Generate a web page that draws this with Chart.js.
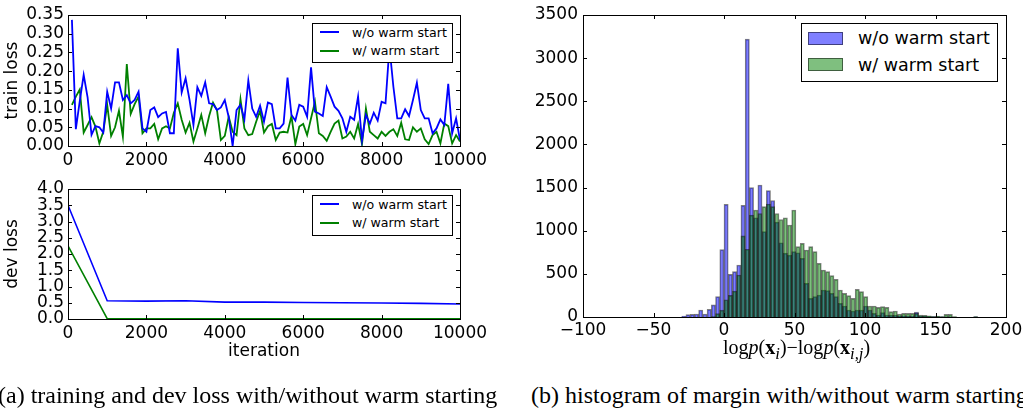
<!DOCTYPE html>
<html>
<head>
<meta charset="utf-8">
<script src="https://cdn.jsdelivr.net/npm/chart.js@4.4.0/dist/chart.umd.min.js"></script>
<style>
  body { margin: 0; width: 1023px; height: 409px; background: #fff; position: relative; overflow: hidden; font-family: 'DejaVu Sans', sans-serif; }
  canvas { position: absolute; }
  #train { left: 0; top: 0; }
  #dev { left: 0; top: 170px; }
  #hist { left: 510px; top: 0; }
  .legend { position: absolute; border: 1px solid #000; background: #fff; box-sizing: border-box; }
  .legend div { position: absolute; white-space: nowrap; }
  .small { font-size: 12.6px; line-height: 16px; }
  .big { font-size: 17.5px; line-height: 20px; }
  .xlab { position: absolute; left: 723px; top: 336px; font-family: 'Liberation Serif', serif; font-size: 20px; white-space: nowrap; }
  .caption { position: absolute; top: 381px; font-family: 'Liberation Serif', serif; font-size: 24px; line-height: 28px; white-space: nowrap; }
</style>
</head>
<body>
<canvas id="train" width="500" height="175"></canvas>
<canvas id="dev" width="500" height="195"></canvas>
<canvas id="hist" width="513" height="345"></canvas>

<div class="legend small" style="left:312px;top:23px;width:141px;height:40px">
  <div style="left:7px;top:7px;width:19px;height:2px;background:#0000ff"></div>
  <div style="left:39px;top:1px">w/o warm start</div>
  <div style="left:7px;top:26px;width:19px;height:2px;background:#008000"></div>
  <div style="left:39px;top:19px">w/ warm start</div>
</div>
<div class="legend small" style="left:312px;top:195px;width:141px;height:41px">
  <div style="left:7px;top:7px;width:19px;height:2px;background:#0000ff"></div>
  <div style="left:39px;top:1px">w/o warm start</div>
  <div style="left:7px;top:26px;width:19px;height:2px;background:#008000"></div>
  <div style="left:39px;top:19px">w/ warm start</div>
</div>
<div class="legend big" style="left:801px;top:23px;width:197px;height:59px">
  <div style="left:6px;top:8px;width:33px;height:11px;background:rgba(0,0,255,0.5);border:1px solid rgba(0,0,0,0.5)"></div>
  <div style="left:56px;top:4px">w/o warm start</div>
  <div style="left:6px;top:34px;width:33px;height:11px;background:rgba(0,128,0,0.5);border:1px solid rgba(0,0,0,0.5)"></div>
  <div style="left:56px;top:31px">w/ warm start</div>
</div>

<div class="xlab">log<i>p</i>(<b>x</b><sub><i>i</i></sub>)&minus;log<i>p</i>(<b>x</b><sub><i>i,j</i></sub>)</div>
<div class="caption" style="left:-2px">(a) training and dev loss with/without warm starting</div>
<div class="caption" style="left:531px">(b) histogram of margin with/without warm starting</div>

<script>
// train loss, sampled every 100 iterations
const trainIters = [100, 200, 300, 400, 500, 600, 700, 800, 900, 1000,
  1100, 1200, 1300, 1400, 1500, 1600, 1700, 1800, 1900, 2000,
  2100, 2200, 2300, 2400, 2500, 2600, 2700, 2800, 2900, 3000,
  3100, 3200, 3300, 3400, 3500, 3600, 3700, 3800, 3900, 4000,
  4100, 4200, 4300, 4400, 4500, 4600, 4700, 4800, 4900, 5000,
  5100, 5200, 5300, 5400, 5500, 5600, 5700, 5800, 5900, 6000,
  6100, 6200, 6300, 6400, 6500, 6600, 6700, 6800, 6900, 7000,
  7100, 7200, 7300, 7400, 7500, 7600, 7700, 7800, 7900, 8000,
  8100, 8200, 8300, 8400, 8500, 8600, 8700, 8800, 8900, 9000,
  9100, 9200, 9300, 9400, 9500, 9600, 9700, 9800, 9900, 10000];
const trainNoWarm = [0.337, 0.045, 0.12, 0.19, 0.13, 0.03, 0.053, 0.05, 0.036, 0.145,
  0.1, 0.17, 0.17, 0.123, 0.136, 0.114, 0.123, 0.145, 0.047, 0.038,
  0.096, 0.103, 0.077, 0.087, 0.091, 0.034, 0.034, 0.261, 0.143, 0.181,
  0.123, 0.056, 0.157, 0.134, 0.17, 0.114, 0.112, 0.096, 0.103, 0.123,
  0.077, 0.0, 0.096, 0.11, 0.071, 0.175, 0.1, 0.078, 0.108, 0.065,
  0.116, 0.112, 0.047, 0.047, 0.06, 0.183, 0.083, 0.068, 0.11, 0.105,
  0.078, 0.21, 0.092, 0.087, 0.08, 0.157, 0.132, 0.105, 0.094, 0.074,
  0.038, 0.078, 0.07, 0.132, 0.015, 0.083, 0.06, 0.089, 0.068, 0.118,
  0.114, 0.265, 0.159, 0.074, 0.074, 0.098, 0.08, 0.123, 0.169, 0.096,
  0.074, 0.074, 0.034, 0.047, 0.071, 0.056, 0.166, 0.034, 0.074, 0.016];
const trainWarm = [0.11, 0.132, 0.151, 0.036, 0.056, 0.077, 0.052, 0.007, 0.038, 0.11,
  0.027, 0.05, 0.094, 0.025, 0.219, 0.086, 0.112, 0.132, 0.034, 0.047,
  0.047, 0.059, 0.018, 0.047, 0.053, 0.047, 0.089, 0.114, 0.07, 0.036,
  0.062, 0.012, 0.047, 0.083, 0.034, 0.08, 0.116, 0.096, 0.016, 0.027,
  0.078, 0.038, 0.029, 0.125, 0.047, 0.029, 0.032, 0.065, 0.094, 0.036,
  0.053, 0.059, 0.016, 0.036, 0.038, 0.036, 0.08, 0.005, 0.052, 0.059,
  0.029, 0.074, 0.118, 0.034, 0.027, 0.014, 0.038, 0.06, 0.068, 0.02,
  0.025, 0.038, 0.02, 0.059, 0.005, 0.1, 0.038, 0.029, 0.02, 0.038,
  0.027, 0.038, 0.045, 0.027, 0.062, 0.018, 0.016, 0.05, 0.038, 0.047,
  0.018, 0.005, 0.029, 0.038, 0.007, 0.06, 0.053, 0.007, 0.029, 0.012];

// dev loss, every 1000 iterations
const devIters = [0, 1000, 2000, 3000, 4000, 5000, 6000, 7000, 8000, 9000, 10000];
const devNoWarm = [3.5, 0.56, 0.55, 0.56, 0.52, 0.52, 0.51, 0.5, 0.49, 0.48, 0.46];
const devWarm = [2.25, 0.01, 0.01, 0.01, 0.01, 0.01, 0.01, 0.01, 0.01, 0.01, 0.01];

// histogram of margins, bins 3 wide starting at binStarts
const binStarts = [-30, -27, -24, -21, -18, -15, -12, -9, -6, -3,
  0, 3, 6, 9, 12, 15, 18, 21, 24, 27,
  30, 33, 36, 39, 42, 45, 48, 51, 54, 57,
  60, 63, 66, 69, 72, 75, 78, 81, 84, 87,
  90, 93, 96, 99, 102, 105, 108, 111, 114, 117,
  120, 123, 126, 129, 132, 135, 138, 141, 144, 147,
  150, 153, 156, 159, 162, 165, 168, 171, 174, 177];
const binWidth = 3;
const histNoWarm = [12, 27, 31, 35, 81, 35, 89, 140, 236, 780,
  1306, 494, 525, 603, 1294, 3220, 1499, 1150, 1530, 990,
  1464, 1350, 1100, 860, 740, 718, 757, 745, 680, 390,
  216, 236, 255, 313, 305, 274, 236, 158, 127, 81,
  70, 81, 81, 127, 81, 42, 23, 50, 23, 20,
  20, 15, 15, 12, 12, 58, 10, 8, 5, 5,
  3, 3, 2, 2, 0, 0, 0, 0, 0, 2];
const histWarm = [0, 0, 0, 0, 0, 0, 0, 5, 40, 80,
  200, 250, 300, 487, 940, 785, 1180, 1240, 1200, 1280,
  1310, 1280, 1200, 1130, 1150, 1066, 1240, 815, 854, 776,
  815, 757, 622, 545, 525, 479, 436, 313, 274, 247,
  216, 320, 294, 236, 127, 127, 112, 120, 112, 62,
  70, 35, 42, 42, 42, 42, 23, 20, 15, 5,
  10, 5, 30, 30, 5, 0, 0, 0, 0, 5];

Chart.defaults.font.family = "'DejaVu Sans', sans-serif";
Chart.defaults.font.size = 17;
Chart.defaults.color = '#000';
Chart.defaults.animation = false;

const minus = v => String(v).replace('-', '\u2212');

// matplotlib-style frame with inward ticks on all four sides
const frameTicks = {
  id: 'frameTicks',
  afterDatasetsDraw(chart) {
    const { ctx, chartArea: a, scales: { x, y } } = chart;
    ctx.save();
    ctx.strokeStyle = '#000';
    ctx.lineWidth = 1;
    ctx.beginPath();
    x.ticks.forEach(t => {
      const px = Math.round(x.getPixelForValue(t.value)) + 0.5;
      ctx.moveTo(px, a.bottom); ctx.lineTo(px, a.bottom - 4);
      ctx.moveTo(px, a.top); ctx.lineTo(px, a.top + 4);
    });
    y.ticks.forEach(t => {
      const py = Math.round(y.getPixelForValue(t.value)) + 0.5;
      ctx.moveTo(a.left, py); ctx.lineTo(a.left + 4, py);
      ctx.moveTo(a.right, py); ctx.lineTo(a.right - 4, py);
    });
    ctx.stroke();
    ctx.strokeRect(Math.round(a.left) + 0.5, Math.round(a.top) + 0.5,
      Math.round(a.right - a.left), Math.round(a.bottom - a.top));
    ctx.restore();
  }
};

function fixSize(w, h) {
  return scale => {
    if (w != null) scale.width = w;
    if (h != null) scale.height = h;
    scale.paddingLeft = 0; scale.paddingRight = 0;
    scale.paddingTop = 0; scale.paddingBottom = 0;
  };
}

function lineChart(id, iters, noWarm, warm, opts) {
  const pts = vals => iters.map((x, i) => ({ x, y: vals[i] }));
  return new Chart(document.getElementById(id), {
    type: 'line',
    data: {
      datasets: [
        { label: 'w/o warm start', data: pts(noWarm), borderColor: '#0000ff', borderWidth: opts.lw, pointRadius: 0, tension: 0 },
        { label: 'w/ warm start', data: pts(warm), borderColor: '#008000', borderWidth: opts.lw, pointRadius: 0, tension: 0 }
      ]
    },
    options: {
      responsive: false,
      layout: { padding: { left: 0, top: opts.top, right: 40, bottom: 0 } },
      plugins: { legend: { display: false }, tooltip: { enabled: false } },
      scales: {
        x: {
          type: 'linear', min: 0, max: 10000,
          grid: { display: false, drawTicks: false }, border: { display: false },
          ticks: { stepSize: 2000, padding: 4, maxRotation: 0, autoSkip: false, callback: v => String(v) },
          title: { display: !!opts.xTitle, text: opts.xTitle, padding: { top: 0, bottom: 3 } },
          afterFit: fixSize(null, opts.xh)
        },
        y: {
          min: 0, max: opts.ymax,
          grid: { display: false, drawTicks: false }, border: { display: false },
          ticks: { stepSize: opts.step, padding: 4, autoSkip: false, callback: v => v.toFixed(opts.dec) },
          title: { display: true, text: opts.yTitle, padding: { top: 2, bottom: 0 } },
          afterFit: fixSize(68, null)
        }
      }
    },
    plugins: [frameTicks]
  });
}

lineChart('train', trainIters, trainNoWarm, trainWarm,
  { top: 15, xh: 29, ymax: 0.35, step: 0.05, dec: 2, yTitle: 'train loss', lw: 1.8 });
lineChart('dev', devIters, devNoWarm, devWarm,
  { top: 19, xh: 46, ymax: 4.0, step: 0.5, dec: 1, yTitle: 'dev loss', xTitle: 'iteration', lw: 1.6 });

const binCenters = binStarts.map(s => s + binWidth / 2);
new Chart(document.getElementById('hist'), {
  type: 'bar',
  data: {
    datasets: [
      { label: 'w/o warm start', data: binCenters.map((x, i) => ({ x, y: histNoWarm[i] })),
        backgroundColor: 'rgba(0,0,255,0.5)', borderColor: 'rgba(0,0,0,0.5)', borderWidth: 1,
        grouped: false, order: 2, barPercentage: 1, categoryPercentage: 1 },
      { label: 'w/ warm start', data: binCenters.map((x, i) => ({ x, y: histWarm[i] })),
        backgroundColor: 'rgba(0,128,0,0.5)', borderColor: 'rgba(0,0,0,0.5)', borderWidth: 1,
        grouped: false, order: 1, barPercentage: 1, categoryPercentage: 1 }
    ]
  },
  options: {
    responsive: false,
    layout: { padding: { left: 0, top: 15, right: 17, bottom: 0 } },
    plugins: { legend: { display: false }, tooltip: { enabled: false } },
    scales: {
      x: {
        type: 'linear', min: -100, max: 200, offset: false,
        grid: { display: false, drawTicks: false }, border: { display: false },
        ticks: { stepSize: 50, padding: 3, maxRotation: 0, autoSkip: false, callback: v => minus(v) },
        afterFit: fixSize(null, 28)
      },
      y: {
        min: 0, max: 3500,
        grid: { display: false, drawTicks: false }, border: { display: false },
        ticks: { stepSize: 500, padding: 5, autoSkip: false, callback: v => String(v) },
        afterFit: fixSize(73, null)
      }
    }
  },
  plugins: [frameTicks]
});
</script>
</body>
</html>
